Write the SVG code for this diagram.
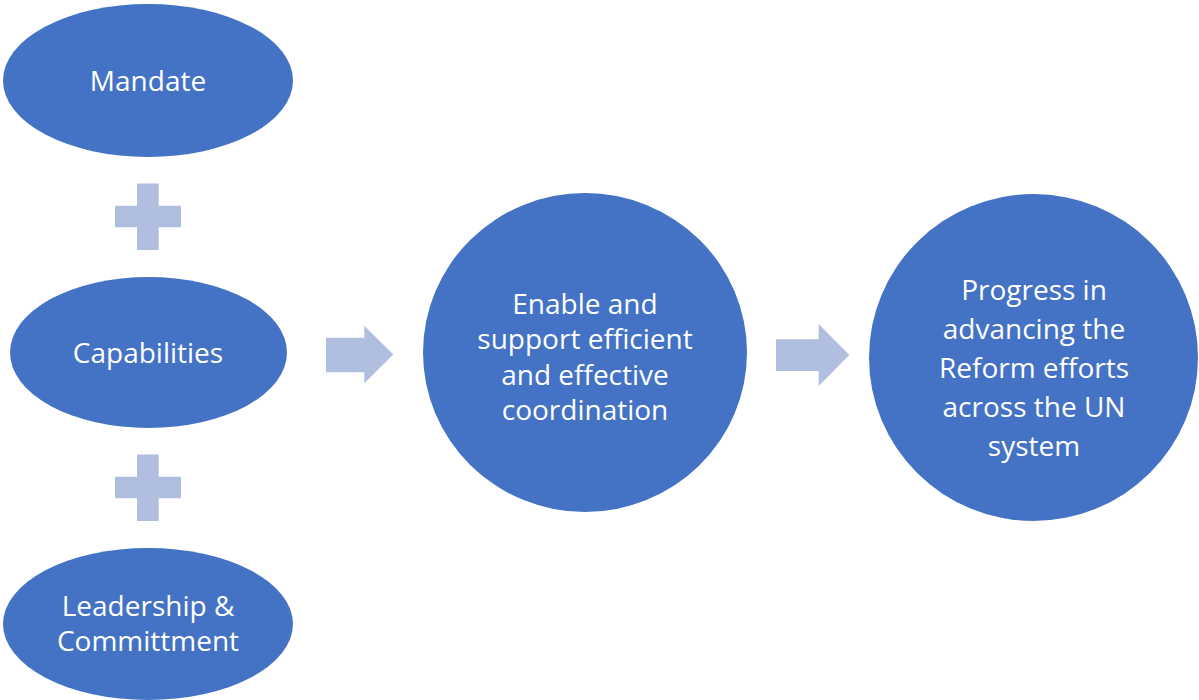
<svg xmlns="http://www.w3.org/2000/svg" width="1199" height="700" viewBox="0 0 1199 700">
<style>
.node{fill:#4472C4}
.lbl{fill:#FFFFFF;font-family:"Open Sans","Noto Sans","Liberation Sans",sans-serif;font-size:28px;text-anchor:middle}
.sym{fill:#B0BEE0}
</style>
<rect width="1199" height="700" fill="#FFFFFF"/>
<g id="mandate">
<ellipse class="node" cx="148" cy="80.5" rx="145" ry="76.5"/>
<text class="lbl" x="148" y="90.5">Mandate</text>
</g>
<g id="capabilities">
<ellipse class="node" cx="148.5" cy="352.5" rx="138.5" ry="75.5"/>
<text class="lbl" x="148" y="362.5">Capabilities</text>
</g>
<g id="leadership">
<ellipse class="node" cx="148" cy="624" rx="145" ry="76"/>
<text class="lbl" x="148" y="616">Leadership &amp;</text>
<text class="lbl" x="148" y="651">Committment</text>
</g>
<g id="enable">
<ellipse class="node" cx="585" cy="352.5" rx="162" ry="159.5"/>
<text class="lbl" x="585" y="313.5">Enable and</text>
<text class="lbl" x="585" y="349">support efficient</text>
<text class="lbl" x="585" y="385">and effective</text>
<text class="lbl" x="585" y="420">coordination</text>
</g>
<g id="progress">
<ellipse class="node" cx="1033.5" cy="357.5" rx="164.5" ry="163.5"/>
<text class="lbl" x="1034" y="300">Progress in</text>
<text class="lbl" x="1034" y="339">advancing the</text>
<text class="lbl" x="1034" y="378">Reform efforts</text>
<text class="lbl" x="1034" y="417">across the UN</text>
<text class="lbl" x="1034" y="456">system</text>
</g>
<g id="connectors">
<path class="sym" d="M137,183.5 H158.7 V205.7 H181 V227.3 H158.7 V250 H137 V227.3 H115 V205.7 H137 Z"/>
<path class="sym" d="M137,454.5 H158.7 V476.7 H181 V498.3 H158.7 V521 H137 V498.3 H115 V476.7 H137 Z"/>
<path class="sym" d="M326,337.7 H364.3 V325.7 L393.3,354.5 L364.3,383.3 V372.3 H326 Z"/>
<path class="sym" d="M776,339.3 H818.7 V324 L849.3,355 L818.7,386 V371 H776 Z"/>
</g>
</svg>
